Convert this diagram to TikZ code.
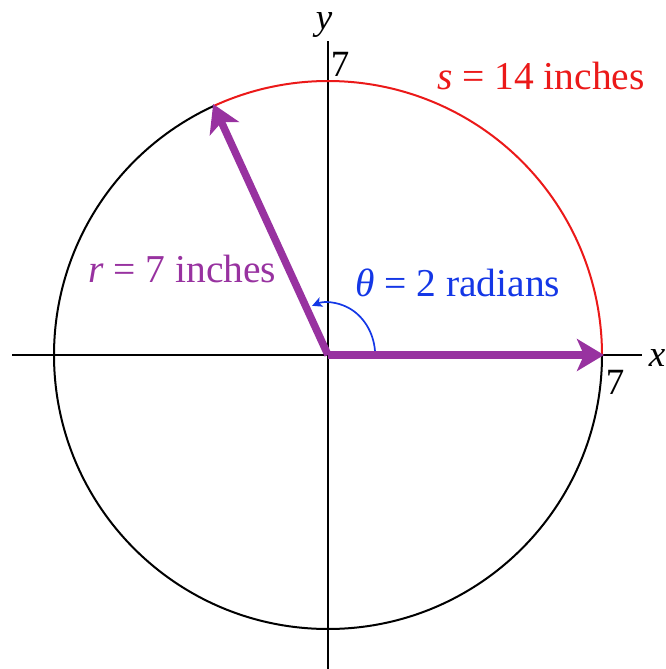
\documentclass[tikz,border=0pt]{standalone}
\usepackage{fontspec}
\setmainfont{Liberation Serif}
\usetikzlibrary{arrows.meta,calc}
\definecolor{vpurple}{RGB}{152,50,160}
\definecolor{vred}{RGB}{235,25,25}
\definecolor{vblue}{RGB}{20,55,230}
\tikzset{
  axis/.style={line width=1.7pt, black},
  circ/.style={line width=2pt},
  vec/.style={line width=7.5pt, vpurple, -{Stealth[length=27pt,width=32pt,inset=7pt]}, shorten >=-2pt},
  lbl/.style={font=\fontsize{39.5}{42}\selectfont, inner sep=0pt},
  tick/.style={font=\fontsize{37}{40}\selectfont, inner sep=0pt}
}
\begin{document}
\begin{tikzpicture}[x=1pt,y=1pt]
\useasboundingbox (0,0) rectangle (665,669);
\coordinate (O) at (328,314);
\coordinate (xl) at (12,314);
\coordinate (xr) at (642,314);
\coordinate (yb) at (328,0);
\coordinate (yt) at (328,628);
\coordinate (P) at ($(O)+(114.59:274)$);
\coordinate (Q) at ($(O)+(0:274)$);
\coordinate (A) at ($(O)+(47,4)$);
% axes
\draw[axis] (xl) -- (xr);
\draw[axis] (yb) -- (yt);
% circle
\draw[circ, black] (Q) arc[start angle=0, end angle=-245.41, radius=274];
\draw[circ, vred] (Q) arc[start angle=0, end angle=114.59, radius=274];
% angle arc
\draw[line width=1.7pt, vblue, -{Stealth[length=10pt,width=10pt,inset=2.5pt]}] (A) arc[start angle=5, end angle=110, x radius=47, y radius=53];
% vectors
\draw[vec] (O) -- (P);
\draw[vec] (O) -- (Q);
% labels
\node[lbl, text=vred, anchor=base west] (s) at (437,579) {\textit{s} = 14 inches};
\node[lbl, text=vblue, anchor=base west] (t) at (355,372) {\textit{θ} = 2 radians};
\node[lbl, text=vpurple, anchor=base west] (r) at (88,386) {\textit{r} = 7 inches};
\node[tick, anchor=base] (ylab) at (324,639) {\textit{y}};
\node[tick, anchor=base] (xlab) at (657,302) {\textit{x}};
\node[tick, anchor=base] (t7) at (340,592) {7};
\node[tick, anchor=base] (r7) at (615,274) {7};
\end{tikzpicture}
\end{document}
